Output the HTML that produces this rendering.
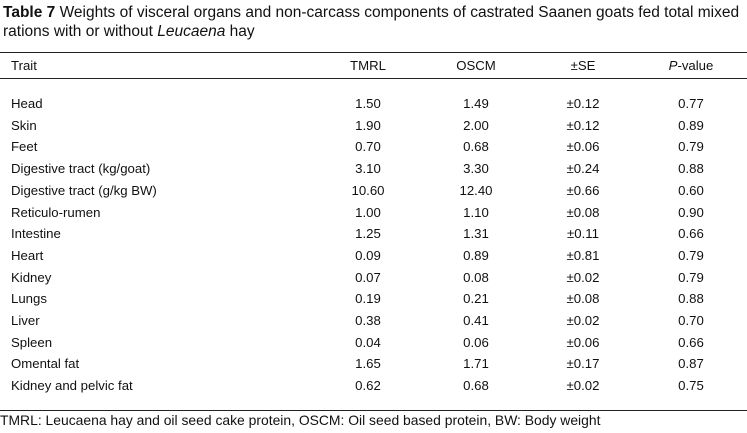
<!DOCTYPE html>
<html><head><meta charset="utf-8"><style>
body{margin:0;width:747px;height:433px;background:#fff;font-family:"Liberation Sans",Arial,sans-serif;color:#111;position:relative;overflow:hidden}
.t{position:absolute;font-size:13.2px;line-height:15px;white-space:nowrap}
.c{transform:translateX(-50%)}
.rule{position:absolute;left:0;width:747px;height:1px;background:#222}
</style></head><body>
<div class="t" style="left:3px;top:3px;font-size:15.5px;line-height:19px"><b>Table 7</b> Weights of visceral organs and non-carcass components of castrated Saanen goats fed total mixed<br>rations with or without <i>Leucaena</i> hay</div>
<div class="rule" style="top:52px"></div>
<div class="rule" style="top:78px"></div>
<div class="rule" style="top:410px"></div>
<div id="tbl"></div>
<div class="t" style="left:0;top:413px;font-size:13.9px">TMRL: Leucaena hay and oil seed cake protein, OSCM: Oil seed based protein, BW: Body weight</div>
<script>
const traits=["Head","Skin","Feet","Digestive tract (kg/goat)","Digestive tract (g/kg BW)","Reticulo-rumen","Intestine","Heart","Kidney","Lungs","Liver","Spleen","Omental fat","Kidney and pelvic fat"];
const tmrl=["1.50","1.90","0.70","3.10","10.60","1.00","1.25","0.09","0.07","0.19","0.38","0.04","1.65","0.62"];
const oscm=["1.49","2.00","0.68","3.30","12.40","1.10","1.31","0.89","0.08","0.21","0.41","0.06","1.71","0.68"];
const se=["±0.12","±0.12","±0.06","±0.24","±0.66","±0.08","±0.11","±0.81","±0.02","±0.08","±0.02","±0.06","±0.17","±0.02"];
const pval=["0.77","0.89","0.79","0.88","0.60","0.90","0.66","0.79","0.79","0.88","0.70","0.66","0.87","0.75"];
const tbl=document.getElementById('tbl');
function add(txt,x,y,center,name,html){
  const d=document.createElement('div');
  d.className='t'+(center?' c':'');
  d.style.left=x+'px';d.style.top=y+'px';
  if(html)d.innerHTML=txt;else d.textContent=txt;
  
  
  tbl.appendChild(d);
}
const cx=[368,476,583,691];
add('Trait',11,58,false,'header-trait');
add('TMRL',cx[0],58,true,'header-tmrl');
add('OSCM',cx[1],58,true,'header-oscm');
add('±SE',cx[2],58,true,'header-se');
add('<i>P</i>-value',cx[3],58,true,'header-p-value',true);
traits.forEach((tr,i)=>{
  const y=96+i*21.7;
  add(tr,11,y,false,'trait-label');
  add(tmrl[i],cx[0],y,true,'tmrl-value');
  add(oscm[i],cx[1],y,true,'oscm-value');
  add(se[i],cx[2],y,true,'se-value');
  add(pval[i],cx[3],y,true,'p-value');
});
</script>
</body></html>
